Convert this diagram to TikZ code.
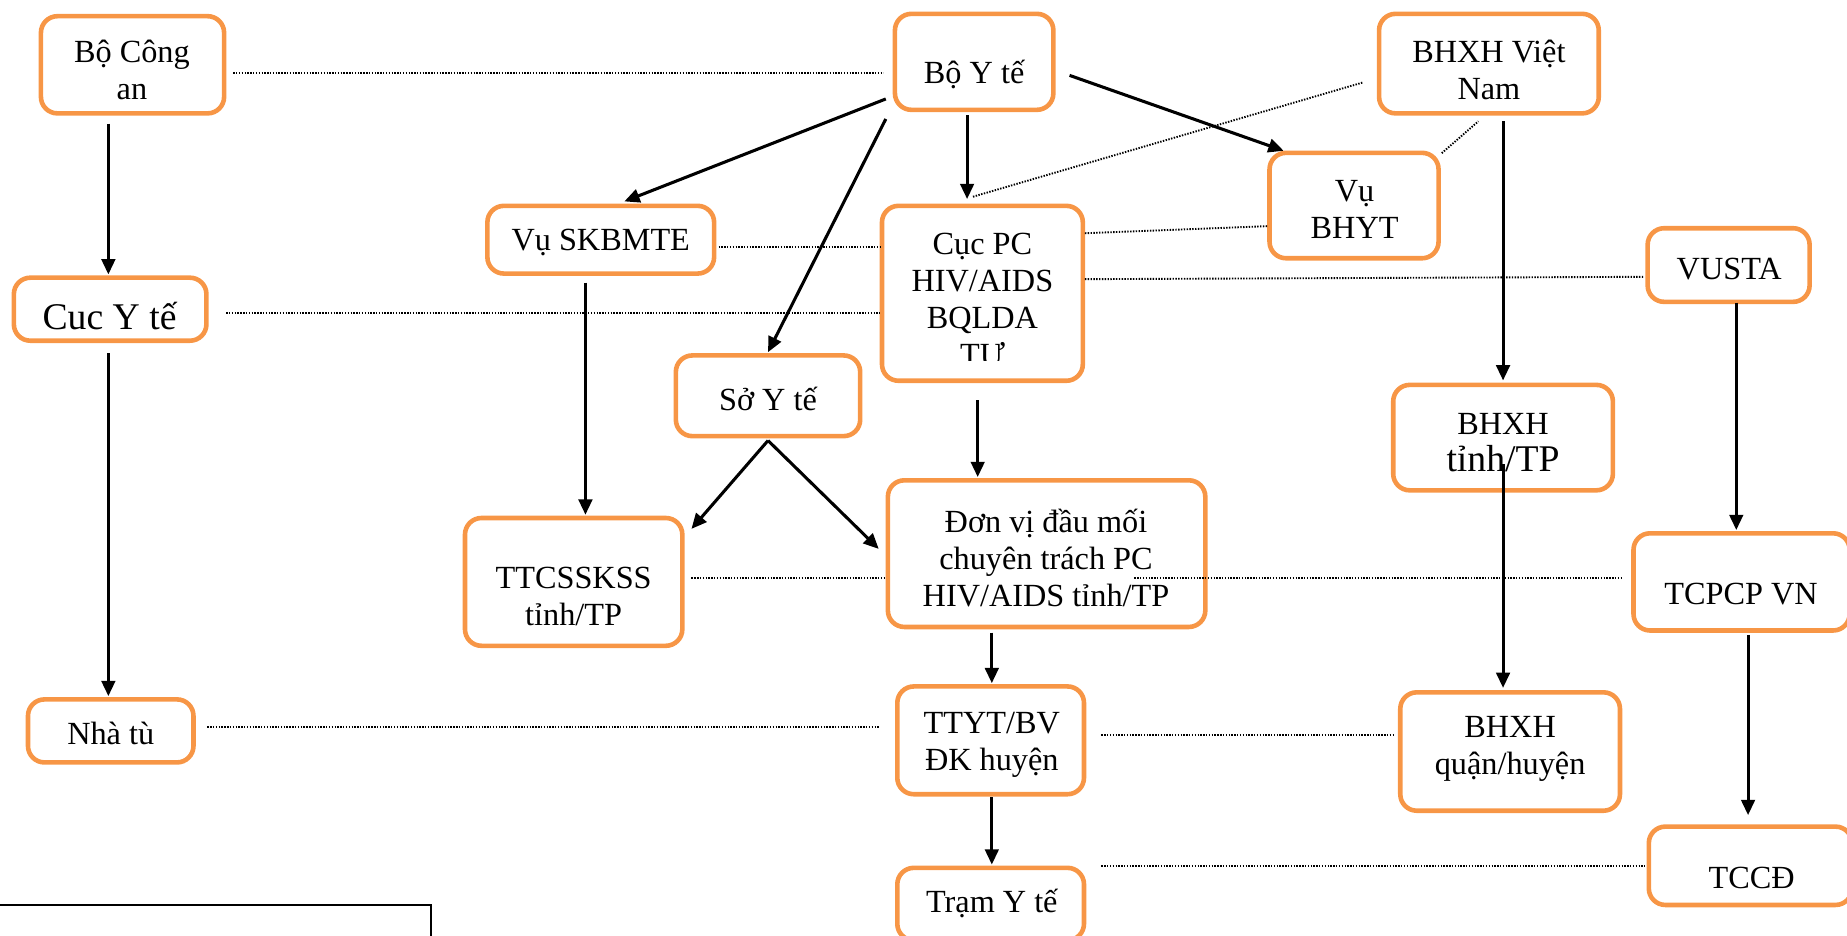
\documentclass[tikz,border=0pt]{standalone}
\usepackage{fontspec}
\setmainfont{Liberation Serif}
\usetikzlibrary{arrows.meta,calc}
\definecolor{boxorange}{RGB}{247,150,70}
\begin{document}
\begin{tikzpicture}[x=1pt,y=-1pt,
  obox/.style={draw=boxorange, line width=3.9pt, rounded corners=14pt, inner sep=0pt, outer sep=0pt},
  txt/.style={font=\fontsize{27.4}{31.5}\selectfont, align=center, inner sep=0pt},
  bigtxt/.style={font=\fontsize{32}{35}\selectfont, align=center, inner sep=0pt},
  arr/.style={line width=2.6pt, -{Triangle[length=13pt,width=11.5pt]}},
  dotl/.style={line width=1.6pt, dash pattern=on 1.2pt off 1.2pt},
]
\useasboundingbox (0,0) rectangle (1568,794);

% boxes
\node[obox, minimum width=155.5pt, minimum height=82.5pt] (bca) at (112.5,55) {};
\node[obox, minimum width=134.5pt, minimum height=81.5pt] (byt) at (827,52.5) {};
\node[obox, minimum width=186.5pt, minimum height=84.5pt] (bhxhvn) at (1264,54) {};
\node[obox, minimum width=192.5pt, minimum height=57.5pt] (skbmte) at (510,203.5) {};
\node[obox, minimum width=170.5pt, minimum height=148.5pt] (cucpc) at (834,249) {};
\node[obox, minimum width=143.5pt, minimum height=89.5pt] (vubhyt) at (1149.5,174.5) {};
\node[obox, minimum width=137.5pt, minimum height=62.5pt] (vusta) at (1467.5,225) {};
\node[obox, minimum width=163.5pt, minimum height=53.5pt] (cucyte) at (93.5,262.5) {};
\node[obox, minimum width=156.5pt, minimum height=68.5pt] (soyte) at (652,336) {};
\node[obox, minimum width=186.5pt, minimum height=89.5pt] (bhxhtinh) at (1276,371.5) {};
\node[obox, minimum width=184.5pt, minimum height=108.5pt] (ttcs) at (487,494) {};
\node[obox, minimum width=269.5pt, minimum height=124.5pt] (donvi) at (888.5,470) {};
\node[obox, minimum width=183.5pt, minimum height=82.5pt] (tcpcp) at (1478.5,494) {};
\node[obox, minimum width=172.5pt, minimum height=66.5pt] (tccd) at (1486,735) {};
\node[obox, minimum width=140.5pt, minimum height=53.5pt] (nhatu) at (94,620.5) {};
\node[obox, minimum width=158.5pt, minimum height=91.5pt] (ttyt) at (841,628.5) {};
\node[obox, minimum width=186.5pt, minimum height=100.5pt] (bhxhq) at (1282,638) {};
\node[obox, minimum width=158.5pt, minimum height=61.5pt] (tram) at (841,767.5) {};

% texts
\node[txt] (t-bca) at (112,59.5) {Bộ Công\\an};
\node[txt] (t-byt) at (827,63) {Bộ Y tế};
\node[txt] (t-bhxhvn) at (1264,59) {BHXH Việt\\Nam};
\node[txt] (t-skbmte) at (510,206) {Vụ SKBMTE};
\begin{scope}
  \clip (747,173) rectangle (921,306);
  \node[txt] (t-cucpc) at (834,254.5) {Cục PC\\HIV/AIDS\\BQLDA\\TƯ};
\end{scope}
\node[txt] (t-vubhyt) at (1150,178) {Vụ\\BHYT};
\node[txt] (t-vusta) at (1468,228) {VUSTA};
\node[bigtxt] (t-cucyte) at (93,268) {Cuc Y tế};
\node[txt] (t-soyte) at (652,339) {Sở Y tế};
\node[txt] (t-bhxhtinh) at (1276,376) {BHXH\\{\fontsize{32}{35}\selectfont tỉnh/TP}};
\node[txt] (t-ttcs) at (487,506) {TTCSSKSS\\tỉnh/TP};
\node[txt] (t-donvi) at (888,474) {Đơn vị đầu mối\\chuyên trách PC\\HIV/AIDS tỉnh/TP};
\node[txt] (t-tcpcp) at (1478,504) {TCPCP VN};
\node[txt] (t-tccd) at (1487,745) {TCCĐ};
\node[txt] (t-nhatu) at (94,623) {Nhà tù};
\node[txt] (t-ttyt) at (842,632) {TTYT/BV\\ĐK huyện};
\node[txt] (t-bhxhq) at (1282,636) {BHXH\\quận/huyện};
\node[txt] (t-tram) at (842,767) {Trạm Y tế};

% arrows
\draw[arr] ($(bca.south)+(-20.5,8.75)$) -- ($(cucyte.north)+(-1.5,-2.75)$);
\draw[arr] ($(cucyte.south)+(-1.5,10.75)$) -- ($(nhatu.north)+(-2,-2.75)$);
\draw[arr] ($(byt.west)+(-7.75,31.5)$) -- ($(skbmte.north)+(20,-3.75)$);
\draw[arr] ($(byt.south west)+(-7.75,7.75)$) -- ($(soyte.north)+(0,-2.75)$);
\draw[arr] ($(byt.south)+(-6,4.75)$) -- ($(cucpc.north)+(-13,-5.75)$);
\draw[arr] ($(byt.east)+(13.75,11.5)$) -- ($(vubhyt.north west)+(12,-1.75)$);
\draw[arr] ($(skbmte.south)+(-13,7.75)$) -- ($(ttcs.north)+(10,-2.75)$);
\draw[arr] ($(cucpc.south)+(-4,16.75)$) -- ($(donvi.north)+(-58.5,-2.75)$);
\draw[arr] ($(soyte.south)+(0,3.75)$) -- ($(ttcs.north east)+(7.75,9.25)$);
\draw[arr] ($(soyte.south)+(0,3.75)$) -- ($(donvi.west)+(-7.75,-4)$);
\draw[arr] ($(donvi.south)+(-46.5,4.75)$) -- ($(ttyt.north)+(1,-2.75)$);
\draw[arr] ($(ttyt.south)+(1,2.75)$) -- ($(tram.north)+(1,-2.75)$);
\draw[arr] ($(bhxhvn.south)+(12,6.75)$) -- ($(bhxhtinh.north)+(0,-3.75)$);
\draw[arr] ($(bhxhtinh.south)+(0,-22)$) -- ($(bhxhq.north)+(-6,-3.75)$);
\draw[arr] ($(vusta.south)+(6.5,0.75)$) -- ($(tcpcp.north)+(-4.5,-2.75)$);
\draw[arr] ($(tcpcp.south)+(5.5,3.75)$) -- ($(tccd.north)+(-2,-9.75)$);

% dotted links
\draw[dotl] ($(bca.east)+(7.75,7)$) -- ($(byt.west)+(-9.75,9.5)$);
\draw[dotl] ($(cucyte.east)+(16.75,3.5)$) -- ($(cucpc.west)+(-1.75,17)$);
\draw[dotl] ($(skbmte.east)+(3.75,6.5)$) -- ($(cucpc.west)+(-1.75,-39)$);
\draw[dotl] ($(cucpc.east)+(1.75,-51)$) -- ($(vubhyt.west)+(-1.75,17.5)$);
\draw[dotl] ($(cucpc.east)+(1.75,-12)$) -- ($(vusta.west)+(-2.75,10)$);
\draw[dotl] ($(cucpc.north)+(-8,-7.75)$) -- ($(bhxhvn.west)+(-13.75,16)$);
\draw[dotl] ($(vubhyt.north east)+(2.75,0.25)$) -- ($(bhxhvn.south)+(-9,6.75)$);
\draw[dotl] ($(ttcs.east)+(7.75,-3)$) -- ($(donvi.west)+(-1.75,21)$);
\draw[dotl] ($(donvi.center)+(74.5,21)$) -- ($(tcpcp.west)+(-8.75,-3)$);
\draw[dotl] ($(nhatu.east)+(11.75,-3.5)$) -- ($(ttyt.west)+(-15.75,-11.5)$);
\draw[dotl] ($(ttyt.east)+(14.75,-4.5)$) -- ($(bhxhq.west)+(-4.75,-14)$);
\draw[dotl] ($(tram.north east)+(14.75,-1.75)$) -- ($(tccd.west)+(-3.75,0)$);

% partial frame at bottom left
\draw[line width=1.5pt] (-5,768) rectangle (366,820);
\end{tikzpicture}
\end{document}
